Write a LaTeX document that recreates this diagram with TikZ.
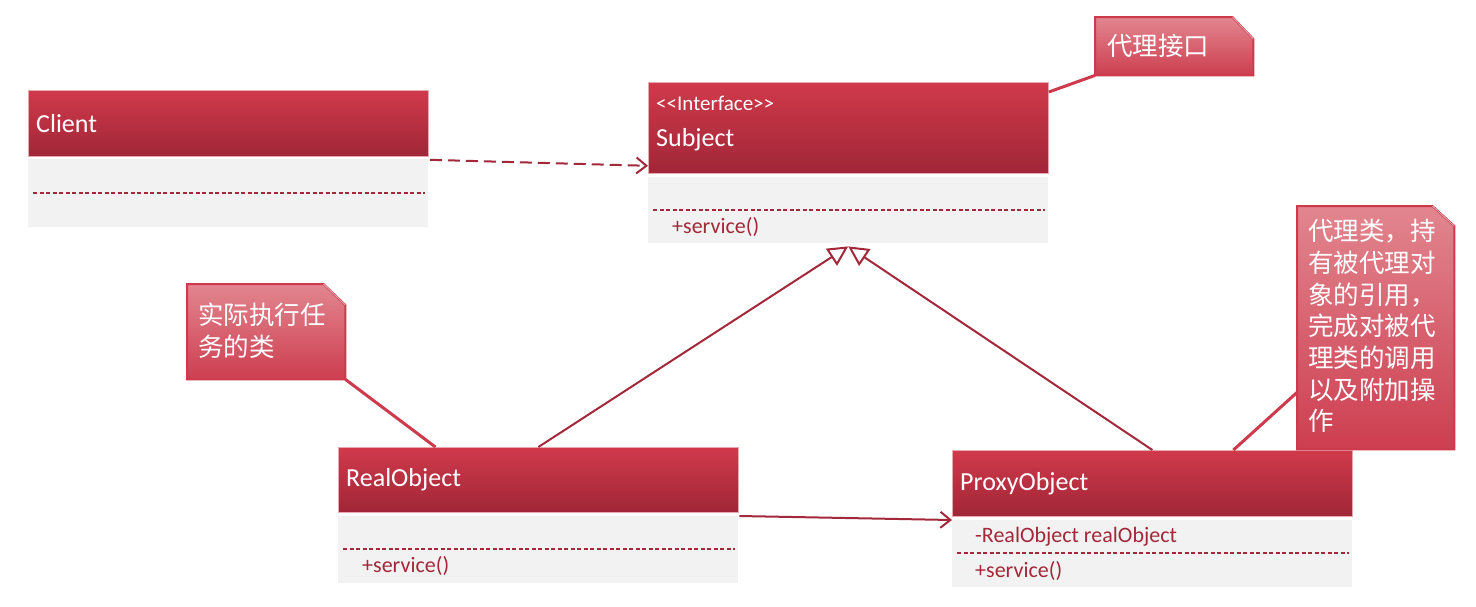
\documentclass[tikz,border=0pt]{standalone}
\usepackage{fontspec}
\setmainfont{Carlito}
\newfontfamily\cjk{Noto Sans CJK SC}
\usetikzlibrary{arrows.meta}
\definecolor{hdtop}{HTML}{D03A4B}
\definecolor{hdbot}{HTML}{A02637}
\definecolor{hdline}{HTML}{E8A8B0}
\definecolor{bodyfill}{HTML}{F2F2F2}
\definecolor{umlred}{HTML}{A2283A}
\definecolor{notetop}{HTML}{E2868F}
\definecolor{notebot}{HTML}{CD3E50}
\definecolor{noteline}{HTML}{CC3A4C}
\tikzset{
  hdbox/.style={anchor=north west, inner sep=0pt, minimum width=400pt, top color=hdtop, bottom color=hdbot, draw=hdline, line width=0.8pt},
  bodybox/.style={anchor=north west, inner sep=0pt, minimum width=400pt, fill=bodyfill},
  titletxt/.style={anchor=west, inner sep=0pt, text=white, font=\fontsize{26}{30}\selectfont},
  stereotxt/.style={anchor=west, inner sep=0pt, text=white, font=\fontsize{21}{25}\selectfont},
  membertxt/.style={anchor=west, inner sep=0pt, text=umlred, font=\fontsize{22}{26}\selectfont},
  sep/.style={draw=umlred, line width=1.6pt, dash pattern=on 4pt off 2.5pt},
  notearea/.style={anchor=north west, inner sep=0pt},
  noteshape/.style={top color=notetop, bottom color=notebot, draw=noteline, line width=2pt},
  foldline/.style={draw=hdline, line width=0.8pt},
  notetxt/.style={anchor=north west, inner sep=0pt, text=white, align=left, font=\cjk\fontsize{25.5}{31.7}\selectfont},
  notelink/.style={draw=noteline, line width=3pt},
  rel/.style={draw=umlred, line width=2pt},
}
\begin{document}
\begin{tikzpicture}[x=1pt,y=-1pt]
\useasboundingbox (0,0) rectangle (1476,606);

% Client
\node[hdbox, minimum height=66pt] (clienth) at (28,90) {};
\node[bodybox, minimum height=68pt] (clientb) at (28,159) {};
\node[titletxt] (clientt) at (36,124) {Client};
\draw[sep] ([xshift=5pt]clientb.west |- 0,193) -- ([xshift=-3pt]clientb.east |- 0,193);

% Subject
\node[hdbox, minimum height=91pt] (subjh) at (648,82) {};
\node[bodybox, minimum height=66pt] (subjb) at (648,177) {};
\node[stereotxt] (subjst) at (656,103) {{<}{<}Interface{>}{>}};
\node[titletxt] (subjt) at (656,140) {Subject};
\draw[sep] ([xshift=5pt]subjb.west |- 0,210) -- ([xshift=-3pt]subjb.east |- 0,210);
\node[membertxt] (subjm) at (672,227) {+service()};

% RealObject
\node[hdbox, minimum height=65pt] (realh) at (338,447) {};
\node[bodybox, minimum height=67pt] (realb) at (338,516) {};
\node[titletxt] (realt) at (346,480) {RealObject};
\draw[sep] ([xshift=5pt]realb.west |- 0,549) -- ([xshift=-3pt]realb.east |- 0,549);
\node[membertxt] (realm) at (362,566) {+service()};

% ProxyObject
\node[hdbox, minimum height=66pt] (proxyh) at (952,450) {};
\node[bodybox, minimum height=67pt] (proxyb) at (952,520) {};
\node[titletxt] (proxyt) at (960,484) {ProxyObject};
\node[membertxt] (proxya) at (975,537) {-RealObject realObject};
\draw[sep] ([xshift=5pt]proxyb.west |- 0,553) -- ([xshift=-3pt]proxyb.east |- 0,553);
\node[membertxt] (proxym) at (975,571) {+service()};

% Notes
\node[notearea, minimum width=158pt, minimum height=58pt] (n1) at (1095,17) {};
\shadedraw[noteshape] (n1.north west) -- ([xshift=-21pt]n1.north east) -- ([yshift=-22pt]n1.north east) -- (n1.south east) -- (n1.south west) -- cycle;
\draw[foldline] ([xshift=-21pt]n1.north east) -- ([yshift=-22pt]n1.north east);
\node[notetxt] (n1t) at (1107,34) {代理接口};

\node[notearea, minimum width=157pt, minimum height=243pt] (n2) at (1297,206) {};
\shadedraw[noteshape] (n2.north west) -- ([xshift=-22pt]n2.north east) -- ([yshift=-20pt]n2.north east) -- (n2.south east) -- (n2.south west) -- cycle;
\draw[foldline] ([xshift=-22pt]n2.north east) -- ([yshift=-20pt]n2.north east);
\node[notetxt] (n2t) at (1308,219) {代理类，持\\有被代理对\\象的引用，\\完成对被代\\理类的调用\\以及附加操\\作};

\node[notearea, minimum width=158pt, minimum height=95pt] (n3) at (187,284) {};
\shadedraw[noteshape] (n3.north west) -- ([xshift=-22pt]n3.north east) -- ([yshift=-21pt]n3.north east) -- (n3.south east) -- (n3.south west) -- cycle;
\draw[foldline] ([xshift=-22pt]n3.north east) -- ([yshift=-21pt]n3.north east);
\node[notetxt] (n3t) at (198,303) {实际执行任\\务的类};

% Note links
\draw[notelink] (n1.south west) -- ([yshift=-10pt]subjh.north east);
\draw[notelink] ([yshift=57pt]n2.south west) -- ([xshift=81pt]proxyh.north);
\draw[notelink] (n3.south east) -- ([xshift=-103pt]realh.north);

% Relations
\draw[rel, dash pattern=on 12pt off 6pt, -{Straight Barb[length=10pt,width=16pt,line width=2pt]}]
  ([xshift=1pt,yshift=-3pt]clienth.south east) -- ([yshift=8pt]subjh.south west);
\draw[rel, -{Triangle[open,length=20pt,width=20pt,line width=2pt,fill=white]}]
  (realh.north) -- ([yshift=-3pt]subjb.south);
\draw[rel, -{Triangle[open,length=20pt,width=20pt,line width=2pt,fill=white]}]
  (proxyh.north) -- ([yshift=-3pt]subjb.south);
\draw[rel, -{Straight Barb[length=10pt,width=16pt,line width=2pt]}]
  ([xshift=1pt]realb.north east) -- (proxyb.north west);
\end{tikzpicture}
\end{document}
